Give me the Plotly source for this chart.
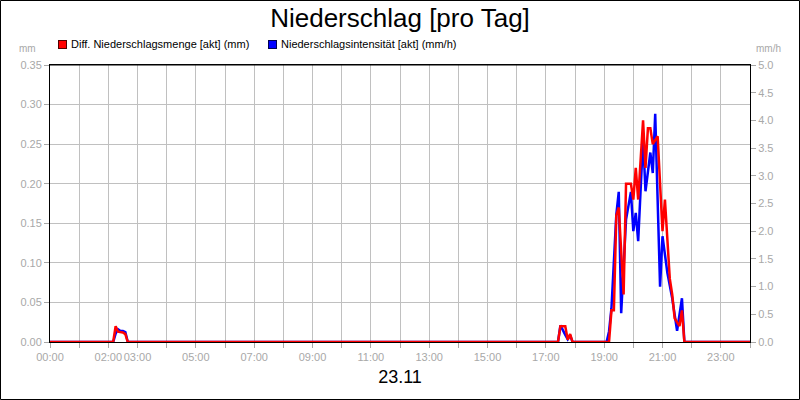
import plotly.graph_objects as go

# 23.11 - vertices (times HH:MM), zero elsewhere
day = "2024-11-23 "

menge_times = ["00:00", "02:10", "02:15", "02:20", "02:30", "02:35", "02:40",
               "17:25", "17:30", "17:40", "17:45", "17:50", "17:55",
               "19:10", "19:15", "19:20", "19:25", "19:30", "19:40", "19:45",
               "19:55", "20:00", "20:05", "20:10", "20:20", "20:25", "20:30",
               "20:35", "20:40", "20:50", "21:00", "21:05", "21:15", "21:20",
               "21:25", "21:35", "21:40", "21:45"]
menge_mm = [0, 0, 0.02, 0.013, 0.012, 0.01, 0,
            0, 0.02, 0.02, 0.003, 0.01, 0,
            0, 0.04, 0.04, 0.16, 0.17, 0.06, 0.20,
            0.20, 0.18, 0.22, 0.18, 0.28, 0.22, 0.27,
            0.27, 0.25, 0.26, 0.14, 0.18, 0.08, 0.06,
            0.03, 0.02, 0.04, 0]

int_times = ["00:00", "02:10", "02:15", "02:20", "02:25", "02:30", "02:35", "02:40",
             "17:25", "17:30", "17:40", "17:45", "17:50", "17:55",
             "19:05", "19:10", "19:15", "19:25", "19:30", "19:35", "19:45",
             "19:55", "20:00", "20:05", "20:10", "20:20", "20:25", "20:35",
             "20:40", "20:45", "20:55", "21:00", "21:10", "21:15", "21:20",
             "21:30", "21:40", "21:45"]
int_mmh = [0, 0, 0.15, 0.23, 0.2, 0.2, 0.18, 0,
           0, 0.3, 0.13, 0.05, 0.12, 0,
           0, 0.19, 0.61, 2.3, 2.71, 0.52, 2.21,
           2.71, 2.0, 2.33, 1.82, 3.68, 2.72, 3.42,
           3.05, 4.12, 1.0, 1.91, 1.25, 1.0, 0.79,
           0.2, 0.79, 0]

tick_hours = ["00:00", "02:00", "03:00", "05:00", "07:00", "09:00", "11:00",
              "13:00", "15:00", "17:00", "19:00", "21:00", "23:00"]

x_menge = [day + t for t in menge_times] + ["2024-11-24 00:00"]
y_menge = menge_mm + [0]
x_int = [day + t for t in int_times] + ["2024-11-24 00:00"]
y_int = int_mmh + [0]

font = "Arial, Liberation Sans, sans-serif"
grey = "#a8a8a8"
pw, ph = 700, 277  # plot area in px, used to place the header texts

fig = go.Figure()
# intensity on the base axis (right side), amount on the overlay (left side) so red is on top
fig.add_trace(go.Scatter(x=x_int, y=y_int, mode="lines",
                         line=dict(color="#0000ff", width=2.5),
                         name="Niederschlagsintensität [akt] (mm/h)"))
fig.add_trace(go.Scatter(x=x_menge, y=y_menge, yaxis="y2", mode="lines",
                         line=dict(color="#ff0000", width=2.5),
                         name="Diff. Niederschlagsmenge [akt] (mm)"))

# legend drawn by hand: coloured box + label
legend_items = [("Diff. Niederschlagsmenge [akt] (mm)", "#ff0000", "#500000", 58),
                ("Niederschlagsintensität [akt] (mm/h)", "#0000ff", "#000050", 268)]
annotations = []
for label, col, edge, px in legend_items:
    annotations.append(dict(text=" ", xref="paper", yref="paper",
                            x=(px - 50) / pw, y=1 + 21 / ph, xanchor="left", yanchor="middle",
                            width=7, height=7, bgcolor=col, bordercolor=edge,
                            borderwidth=1, borderpad=0, showarrow=False,
                            font=dict(size=1)))
    annotations.append(dict(text=label, xref="paper", yref="paper",
                            x=(px + 11 - 50) / pw, y=1 + 21 / ph,
                            xanchor="left", yanchor="middle", showarrow=False,
                            font=dict(family=font, size=11, color="black")))
annotations += [
    dict(text="mm", xref="paper", yref="paper", x=-12 / pw, y=1 + 17 / ph,
         xanchor="right", yanchor="middle", showarrow=False,
         font=dict(family=font, size=10, color=grey)),
    dict(text="mm/h", xref="paper", yref="paper", x=1 + 4 / pw, y=1 + 17 / ph,
         xanchor="left", yanchor="middle", showarrow=False,
         font=dict(family=font, size=10, color=grey)),
]

fig.update_layout(
    width=800, height=400,
    margin=dict(l=50, r=50, t=65, b=58, autoexpand=False),
    paper_bgcolor="white", plot_bgcolor="white",
    font=dict(family=font, size=11, color=grey),
    showlegend=False,
    title=dict(text="Niederschlag [pro Tag]", x=0.5, xanchor="center",
               y=0.955, yanchor="middle",
               font=dict(family=font, size=26, color="black")),
    xaxis=dict(type="date",
               range=["2024-11-23 00:00", "2024-11-24 00:00"],
               tickvals=[day + h for h in tick_hours], ticktext=tick_hours,
               tickangle=0, automargin=False,
               showgrid=True, gridcolor="#c0c0c0", gridwidth=1,
               ticks="outside", ticklen=5, tickcolor=grey,
               minor=dict(dtick=3600000, showgrid=True, gridcolor="#c0c0c0",
                          ticks="outside", ticklen=5, tickcolor=grey),
               showline=True, linecolor="black", linewidth=1, mirror=True,
               zeroline=False,
               title=dict(text="23.11", standoff=8,
                          font=dict(family=font, size=18, color="black"))),
    yaxis=dict(range=[0, 5], dtick=0.5, tickformat=".1f",
               side="right", showgrid=False, zeroline=False, automargin=False,
               ticks="outside", ticklen=5, tickcolor=grey,
               showline=True, linecolor="black", linewidth=1),
    yaxis2=dict(range=[0, 0.35], dtick=0.05, tickformat=".2f",
                overlaying="y", side="left", automargin=False,
                showgrid=True, gridcolor="#c0c0c0", gridwidth=1,
                ticks="outside", ticklen=5, tickcolor=grey,
                showline=True, linecolor="black", linewidth=1,
                zeroline=False),
    shapes=[dict(type="rect", xref="paper", yref="paper",
                 x0=-49.5 / pw, x1=1 + 49.5 / pw,
                 y0=-57.5 / ph, y1=1 + 64.5 / ph,
                 line=dict(color="black", width=1), layer="below"),
            dict(type="line", xref="paper", yref="paper", x0=0, x1=1, y0=1, y1=1,
                 line=dict(color="black", width=1))],
    annotations=annotations,
)

# drop the default page margin so the 800x400 chart fills the window
fig.write_html("out.html", config={"displayModeBar": False},
               post_script="document.body.style.margin='0';")
